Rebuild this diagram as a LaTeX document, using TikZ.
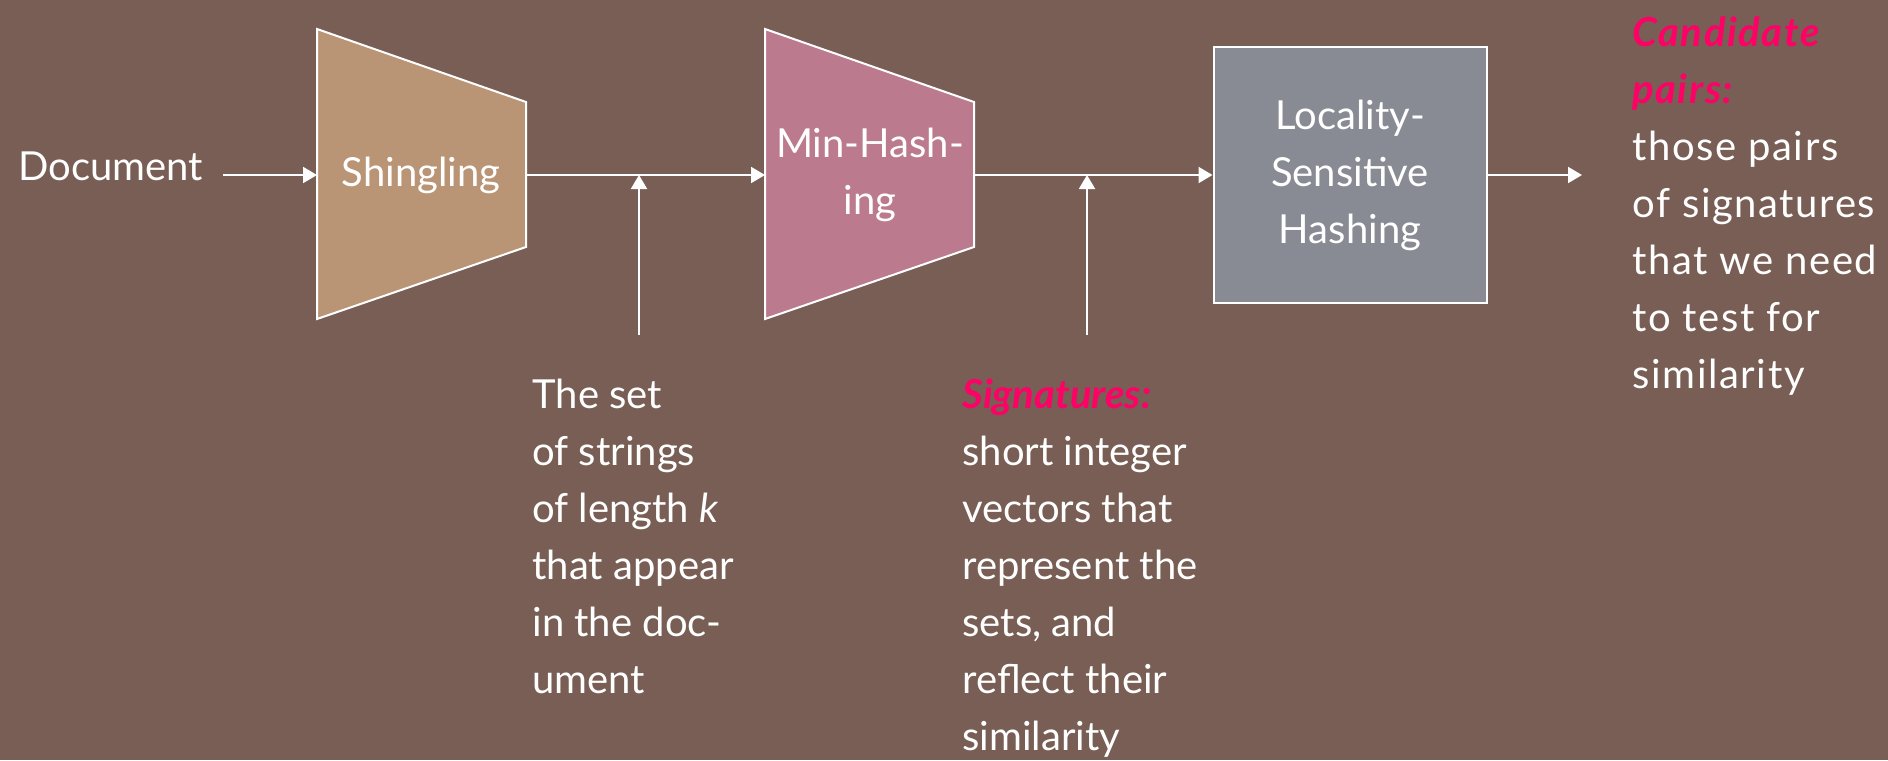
\documentclass[tikz,border=0pt]{standalone}
\usepackage{fontspec}
\setmainfont{Lato}
\usetikzlibrary{arrows.meta}
\tikzset{>={Triangle[length=7pt,width=8pt]}}
\definecolor{slidebg}{RGB}{120,94,84}
\definecolor{shingletan}{RGB}{185,149,118}
\definecolor{minhashpink}{RGB}{188,122,142}
\definecolor{lshgray}{RGB}{136,139,147}
\definecolor{hotpink}{RGB}{255,0,102}
\newcommand{\keyterm}[1]{{\color{hotpink}\bfseries\itshape #1}}

\begin{document}
\begin{tikzpicture}[x=.5pt, y=-.5pt,
    txt/.style={text=white, font=\fontsize{20}{28.5}\selectfont, inner sep=0pt},
    note/.style={txt, align=left, anchor=base west},
    stage/.style={draw=white, line width=1pt},
    flow/.style={white, line width=1pt, ->}]
      \useasboundingbox[fill=slidebg] (0,0) rectangle (1888,760);
      % stages
      \filldraw[stage, fill=shingletan] (317,29) -- (526,102) -- (526,247) -- (317,319) -- cycle;
      \filldraw[stage, fill=minhashpink] (765,29) -- (974,102) -- (974,247) -- (765,319) -- cycle;
      \coordinate (shin-w) at (317,175);
      \coordinate (shin-e) at (526,175);
      \coordinate (mh-w) at (765,175);
      \coordinate (mh-e) at (974,175);
      \node[txt] (shin) at (421,175) {Shingling};
      \node[txt, align=center] (mh) at (870,175) {Min-Hash-\\ing};
      \node[stage, fill=lshgray, txt, align=center, minimum width=136.5pt,
        minimum height=128pt] (lsh) at (1350,175) {Locality-\\Sensitive\\Hashing};
      % texts (placed at the baseline of their last line)
      \node[note] (doc) at (18,180) {Document};
      \node[note] (sets) at (532,693) {The set\\of strings\\of length \textit{k}\\that appear\\in the doc-\\ument};
      \node[note] (sigs) at (962,750) {\keyterm{Signatures:}\\short integer\\vectors that\\represent the\\sets, and\\reflect their\\similarity};
      \node[note, font=\fontsize{20}{28.5}\selectfont\addfontfeatures{LetterSpace=4}] (cand) at (1632,388)
        {\keyterm{Candidate}\\\keyterm{pairs:}\\those pairs\\of signatures\\that we need\\to test for\\similarity};
      % arrows
      \coordinate (doc-out) at (223,175);
      \coordinate (sets-in) at (639,335);
      \coordinate (sigs-in) at (1087,335);
      \coordinate (cand-in) at (1582,175);
      \draw[flow] (doc-out) -- (shin-w);
      \draw[flow] (shin-e) -- (mh-w);
      \draw[flow] (mh-e) -- (lsh.west);
      \draw[flow] (lsh.east) -- (cand-in);
      \draw[flow] (sets-in) -- (sets-in |- shin-e);
      \draw[flow] (sigs-in) -- (sigs-in |- mh-e);
\end{tikzpicture}
\end{document}
